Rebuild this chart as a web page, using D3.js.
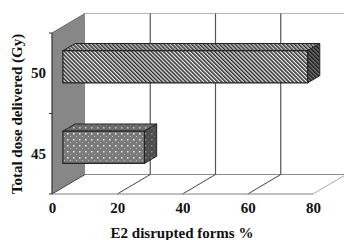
<!DOCTYPE html>
<html><head><meta charset="utf-8">
<script src="https://cdn.jsdelivr.net/npm/d3@7"></script>
<style>body{margin:0;background:#fff}svg{display:block}</style>
</head><body>
<script>
const categories = ["50", "45"];
const values = [75, 25];
const xTicks = [0, 20, 40, 60, 80];
const xTitle = "E2 disrupted forms %";
const yTitle = "Total dose delivered (Gy)";

const W = 344, H = 240;
const svg = d3.select("body").append("svg").attr("width", W).attr("height", H);
const font = "'Liberation Serif','Times New Roman',serif";

// 3D geometry
const DX = 33, DY = -19.5;
const x = d3.scaleLinear().domain([0, 80]).range([52, 313]);
const y = d3.scaleBand().domain(categories).range([33, 194]).paddingInner(0.6).paddingOuter(0.3);
const P = (v, d, py) => [x(v) + d * DX, py + d * DY];
const yTop = 33, yBot = 194;

const defs = svg.append("defs");
function stripes(id, bg, fg, w) {
  const p = defs.append("pattern").attr("id", id).attr("patternUnits", "userSpaceOnUse")
    .attr("width", 2.8).attr("height", 3).attr("patternTransform", "rotate(-45)");
  p.append("rect").attr("width", 2.8).attr("height", 3).attr("fill", bg);
  p.append("rect").attr("width", w).attr("height", 3).attr("fill", fg);
}
stripes("st-front", "#eeeeee", "#2a2a2a", 1.5);
stripes("st-top", "#c4c4c4", "#333333", 1.4);
stripes("st-side", "#7a7a7a", "#1a1a1a", 1.5);
function dots(id, bg, dot) {
  const p = defs.append("pattern").attr("id", id).attr("patternUnits", "userSpaceOnUse")
    .attr("width", 6).attr("height", 6);
  p.append("rect").attr("width", 6).attr("height", 6).attr("fill", bg);
  p.append("rect").attr("x", 1).attr("y", 1).attr("width", 1.5).attr("height", 1.5).attr("fill", dot);
  p.append("rect").attr("x", 4).attr("y", 4).attr("width", 1).attr("height", 1).attr("fill", dot).attr("opacity", 0.6);
}
dots("dt-front", "#7a7a7a", "#ececec");
dots("dt-top", "#6c6c6c", "#c8c8c8");
dots("dt-side", "#4e4e4e", "#8e8e8e");

const line = d3.line();

// left wall
svg.append("path").attr("d", line([P(0,0,yTop), P(0,1,yTop), P(0,1,yBot), P(0,0,yBot)]) + "Z")
  .attr("fill", "#878787").attr("stroke", "none");
// back wall top & bottom edges
svg.append("path").attr("d", line([P(0,1,yTop), P(80,1,yTop)])).attr("stroke", "#b5b5b5").attr("stroke-width", 1).attr("fill", "none");
svg.append("path").attr("d", line([P(0,1,yBot), P(80,1,yBot)])).attr("stroke", "#8a8a8a").attr("stroke-width", 1).attr("fill", "none");
// back wall gridlines
xTicks.filter(t => t > 0 && t < 80).forEach(t => {
  svg.append("path").attr("d", line([P(t,1,yTop), P(t,1,yBot)])).attr("stroke", "#555").attr("stroke-width", 1.2);
});
// floor diagonals
xTicks.forEach(t => {
  svg.append("path").attr("d", line([P(t,0,yBot), P(t,1,yBot)]))
    .attr("stroke", t === 80 ? "#aaa" : "#444").attr("stroke-width", 1);
});
// front floor edge
svg.append("path").attr("d", line([P(0,0,yBot), P(80,0,yBot)])).attr("stroke", "#808080").attr("stroke-width", 1.2);
// left wall front edge
svg.append("path").attr("d", line([P(0,0,yTop), P(0,0,yBot)])).attr("stroke", "#333").attr("stroke-width", 1.2);
svg.append("path").attr("d", line([P(0,0,yTop), P(0,1,yTop)])).attr("stroke", "#666").attr("stroke-width", 1);
// y ticks at band boundaries
[yTop, (yTop + yBot) / 2, yBot].forEach(py => {
  svg.append("path").attr("d", line([[49, py], [52, py]])).attr("stroke", "#333");
});

// bars
const d0 = 0.33, d1 = 0.70;
const fills = [["st-front", "st-top", "st-side"], ["dt-front", "dt-top", "dt-side"]];
categories.forEach((c, i) => {
  const v = values[i];
  const y0 = y(c), y1 = y(c) + y.bandwidth();
  const g = svg.append("g");
  g.append("path").attr("d", line([P(0,d0,y0), P(0,d1,y0), P(v,d1,y0), P(v,d0,y0)]) + "Z")
    .attr("fill", `url(#${fills[i][1]})`).attr("stroke", "#222").attr("stroke-width", 1);
  g.append("path").attr("d", line([P(v,d0,y0), P(v,d1,y0), P(v,d1,y1), P(v,d0,y1)]) + "Z")
    .attr("fill", `url(#${fills[i][2]})`).attr("stroke", "#222").attr("stroke-width", 1);
  g.append("path").attr("d", line([P(0,d0,y0), P(v,d0,y0), P(v,d0,y1), P(0,d0,y1)]) + "Z")
    .attr("fill", `url(#${fills[i][0]})`).attr("stroke", "#222").attr("stroke-width", 1.2);
});

// x axis labels
const xAxis = d3.axisBottom(x).tickValues(xTicks).tickSize(0).tickPadding(0).tickFormat(d3.format("d"));
const gx = svg.append("g").attr("transform", `translate(0,${yBot + 8})`).call(xAxis);
gx.select(".domain").remove();
gx.selectAll("text").attr("font-family", font).attr("font-weight", "bold").attr("font-size", 15).attr("fill", "#111");

// y axis labels
const yLab = d3.scaleBand().domain(categories).range([yTop, yBot]);
const yAxis = d3.axisLeft(yLab).tickSize(0).tickPadding(0);
const gy = svg.append("g").attr("transform", "translate(46,0)").call(yAxis);
gy.select(".domain").remove();
gy.selectAll("text").attr("font-family", font).attr("font-weight", "bold").attr("font-size", 15).attr("fill", "#111");

// titles
svg.append("text").attr("x", 182).attr("y", 238).attr("text-anchor", "middle")
  .attr("font-family", font).attr("font-weight", "bold").attr("font-size", 15).attr("fill", "#111").text(xTitle);
svg.append("text").attr("transform", "translate(22,114) rotate(-90)").attr("text-anchor", "middle")
  .attr("font-family", font).attr("font-weight", "bold").attr("font-size", 15).attr("fill", "#111").text(yTitle);
</script>
</body></html>
